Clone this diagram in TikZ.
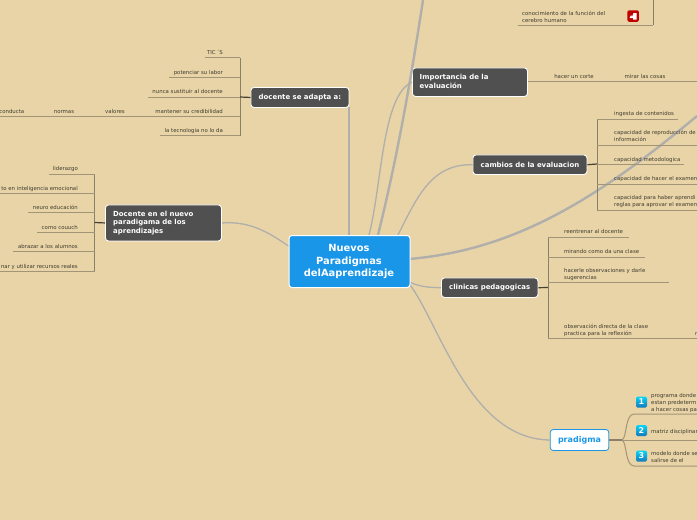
\documentclass[tikz,border=0pt]{standalone}
\usepackage{fontspec}
\setmainfont{DejaVu Sans}
\definecolor{bgc}{HTML}{E8D4A7}
\definecolor{darkbox}{HTML}{505050}
\definecolor{bluebox}{HTML}{1A96E8}
\definecolor{linkc}{HTML}{B0AFAB}
\definecolor{branch}{HTML}{A29476}
\definecolor{bus}{HTML}{8A7F68}
\definecolor{txt}{HTML}{423D30}
\tikzset{
 x=1pt,y=-1pt,
 darkn/.style={draw=white,line width=0.9pt,fill=darkbox,rounded corners=3pt,inner sep=0pt,anchor=north west},
 darkt/.style={text=white,inner sep=0pt,align=left,font=\bfseries\fontsize{6.95}{8.8}\selectfont},
 rootn/.style={draw=white,line width=1pt,fill=bluebox,rounded corners=3pt,minimum width=121pt,minimum height=52pt,inner sep=0pt,anchor=north west},
 roott/.style={inner sep=0pt,text=white,align=center,font=\bfseries\fontsize{9.9}{12.2}\selectfont},
 leafl/.style={text=txt,font=\fontsize{5.4}{6.7}\selectfont,inner sep=0pt,anchor=base west,align=left},
 leafr/.style={text=txt,font=\fontsize{5.4}{6.7}\selectfont,inner sep=0pt,anchor=base east,align=right},
 leafc/.style={text=txt,font=\fontsize{5.4}{6.7}\selectfont,inner sep=0pt,anchor=base},
 ul/.style={draw=branch,line width=1pt},
 busl/.style={draw=bus,line width=1pt},
 stub/.style={draw=black!70!bgc,line width=1.2pt},
 thin link/.style={draw=linkc,line width=1.3pt},
 thick link/.style={draw=linkc,line width=2.4pt},
 numbox/.style={top color=cyan!60!bluebox,bottom color=bluebox!80!black,rounded corners=1.5pt,text=white,font=\bfseries\fontsize{8}{9}\selectfont,minimum size=11pt,inner sep=0pt},
}
\begin{document}
\begin{tikzpicture}
\useasboundingbox (0,0) rectangle (697,520);
\clip (0,0) rectangle (697,520);
\fill[bgc] (0,0) rectangle (697,520);

% branch boxes
\node[darkn,minimum width=98pt,minimum height=20pt] (adapta) at (250.5,87) {};
\node[darkn,minimum width=116pt,minimum height=36pt] (nuevo) at (105,204.5) {};
\node[darkn,minimum width=115pt,minimum height=28.5pt] (import) at (412,67.5) {};
\node[darkn,minimum width=114pt,minimum height=19.5pt] (cambios) at (472.5,154.5) {};
\node[darkn,minimum width=96.5pt,minimum height=19.5pt] (clinicas) at (441,277.5) {};
\node[draw=bluebox,line width=0.8pt,fill=white,rounded corners=3pt,minimum width=58.5pt,minimum height=21pt,inner sep=0pt,text=bluebox,font=\bfseries\fontsize{8}{10}\selectfont] (pradigma) at (579.5,440) {pradigma};

\node[darkt] (adaptat) at (adapta.center) {docente se adapta a:};
\node[darkt,anchor=west,font=\bfseries\fontsize{6.95}{8.5}\selectfont] (nuevot) at (113,222.7) {Docente en el nuevo\\paradigama de los\\aprendizajes};
\node[darkt,anchor=west] (importt) at (419.5,81.7) {Importancia de la\\evaluación};
\node[darkt] (cambiost) at (cambios.center) {cambios de la evaluacion};
\node[darkt] (clinicast) at (clinicas.center) {clinicas pedagogicas};

% root links
\coordinate (topout) at (423,0);
\coordinate (rightout) at (697,116);
\draw[thick link] (349,235) -- (349,107);
\draw[thick link] (378,235) .. controls (392,178) and (406,112) .. (topout);
\draw[thin link] (288.5,246) .. controls (268,232) and (250,221) .. (nuevo.east);
\draw[thin link] (369,235) .. controls (382,185) and (382,95) .. (import.west);
\draw[thin link] (398,235) .. controls (418,195) and (432,164) .. (cambios.west);
\draw[thick link] (409.5,259) .. controls (510,250) and (590,205) .. (rightout);
\draw[thin link] (409.5,282) .. controls (420,287) and (430,287.5) .. (clinicas.west);
\draw[thin link] (409.5,284) .. controls (440,325) and (470,439) .. (pradigma.west);
% central box, on top of its links
\node[rootn] (root) at (288.5,235) {};
\node[roott] (roottext) at (349,261.5) {Nuevos\\Paradigmas\\delAaprendizaje};

% docente se adapta a
\coordinate (a1) at (205,57.5); \coordinate (a2) at (169,77); \coordinate (a3) at (148,97);
\coordinate (a4) at (0,116.5); \coordinate (a5) at (160,135.7);
\draw[busl] (240,57.5) -- (240,135.7);
\draw[stub] (adapta.west) -- (240,97);
\foreach \c/\y in {a1/57.5,a2/77,a3/97,a4/116.5,a5/135.7} \draw[ul] (240,\y) -- (\c);
\node[leafr] (t1) at (223,54) {TIC\kern1pt´S};
\node[leafr] (t2) at (223,74) {potenciar su labor};
\node[leafr] (t3) at (223,93) {nunca sustituir al docente};
\node[leafr] (t4) at (223,113) {mantener su credibilidad};
\node[leafr] (t5) at (223,132) {la tecnologia no lo da};
\node[leafc] (t6) at (115,113) {valores};
\node[leafc] (t7) at (64,113) {normas};
\node[leafr] (t8) at (24.5,113) {conducta};

% Docente en el nuevo paradigma
\draw[busl] (94.5,174) -- (94.5,271);
\draw[stub] (nuevo.west) -- (94.5,222.5);
\foreach \x/\y in {49/174,0/193,28/212.7,37/232,13/251.7,0/271} \draw[ul] (94.5,\y) -- (\x,\y);
\node[leafr] (d1) at (78,170.5) {liderazgo};
\node[leafr] (d2) at (78,190) {to en inteligencia emocional};
\node[leafr] (d3) at (78,209.5) {neuro educación};
\node[leafr] (d4) at (78,229.5) {como couuch};
\node[leafr] (d5) at (78,248.5) {abrazar a los alumnos};
\node[leafr] (d6) at (78,268) {nar y utilizar recursos reales};

% top right
\draw[busl] (653,0) -- (653,25);
\draw[ul] (653,25) -- (518,25);
\node[leafl] (c1) at (522,22) {conocimiento de la función del\\cerebro humano};
\node[fill=red!75!black,rounded corners=1.5pt,minimum size=11.5pt,inner sep=0pt] (icon) at (633,16) {};
\fill[white] (629.5,18) -- (631,15) -- (632,17) -- (633.5,13) -- (636.5,13) -- (636.5,19.5) -- (633,19.5) -- (633,18) -- cycle;

% importancia
\coordinate (i1) at (697,81);
\draw[ul] (import.east |- i1) -- (i1);
\node[leafc] (h1) at (574,78) {hacer un corte};
\node[leafc] (h2) at (645,78) {mirar las cosas};

% cambios
\draw[busl] (597,119) -- (597,210);
\draw[stub] (cambios.east) -- (597,164);
\foreach \x/\y in {678/119,697/145,684/164,697/184,697/210} \draw[ul] (597,\y) -- (\x,\y);
\node[leafl] (e1) at (614,115) {ingesta de contenidos};
\node[leafl] (e2) at (614,141) {capacidad de reproducción de\\información};
\node[leafl] (e3) at (614,161) {capacidad metodologica};
\node[leafl] (e4) at (614,180) {capacidad de hacer el examen};
\node[leafl] (e5) at (614,206) {capacidad para haber aprendi\\reglas para aprovar el examen};

% clinicas
\draw[busl] (548,237) -- (548,338);
\draw[stub] (clinicas.east) -- (548,287.5);
\foreach \x/\y in {629/237,645/257,669/282,697/338} \draw[ul] (548,\y) -- (\x,\y);
\node[leafl] (f1) at (564,233) {reentrenar al docente};
\node[leafl] (f2) at (564,253) {mirando como da una clase};
\node[leafl] (f3) at (564,279) {hacerle observaciones y darle\\sugerencias};
\node[leafl] (f4) at (564,335) {observación directa de la clase\\practica para la reflexión};
\node[leafl] (f5) at (695,335) {r};

% pradigma
\draw[draw=bus,line width=1.6pt] (pradigma.east) -- (622,440);
\draw[ul] (622,440) .. controls (627,438) and (625,414) .. (634,414) -- (697,414);
\draw[ul] (622,440) -- (697,440);
\draw[ul] (622,440) .. controls (627,442) and (625,466) .. (634,466) -- (697,466);
\node[numbox] (n1) at (641.5,402) {1};
\node[numbox] (n2) at (641.5,430.5) {2};
\node[numbox] (n3) at (641.5,456) {3};
\node[leafl] (g1) at (651,411) {programa donde\\estan predeterm\\a hacer cosas pa};
\node[leafl] (g2) at (651,433) {matriz disciplinar};
\node[leafl] (g3) at (651,462) {modelo donde se\\salirse de el};
\end{tikzpicture}
\end{document}
